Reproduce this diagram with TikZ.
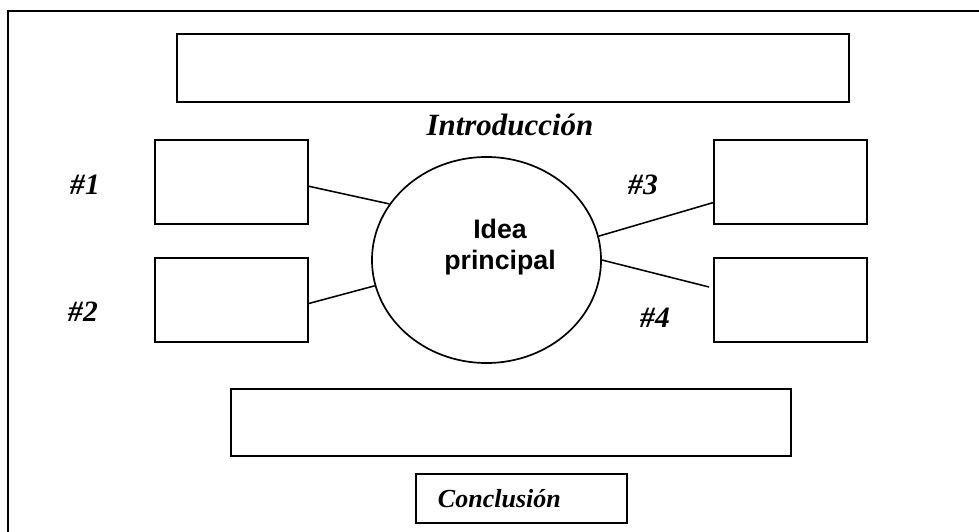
\documentclass[tikz,border=0pt]{standalone}
\usepackage{fontspec}
\setmainfont{Liberation Serif}
\newfontfamily\ideafont{Liberation Sans}
\usetikzlibrary{shapes.geometric, calc}

\tikzset{
	box/.style = {draw, line width = 1.4pt, inner sep = 0pt},
	small box/.style = {box, minimum width = 3.825cm, minimum height = 2.1cm},
	link/.style = {line width = 1.1pt},
	tag/.style = {font = \fontsize{21}{25}\selectfont\bfseries\itshape},
	heading/.style = {font = \fontsize{22}{26}\selectfont\bfseries\itshape}
}

\begin{document}
\begin{tikzpicture}[x = 0.025cm, y = -0.025cm]

	% Frame
	
	\useasboundingbox (0, 0) rectangle (979, 532);
	\clip (0, 0) rectangle (979, 532);
	\draw [line width = 1.5pt] (8, 11) rectangle (1000, 560);
	
	% Introduction + conclusion boxes
	
	\node [box, minimum width = 16.8cm, minimum height = 1.7cm] (intro) at (513, 68) {};
	\node [heading] (introtext) at (510, 125) {Introducción};
	
	\node [box, minimum width = 14cm, minimum height = 1.675cm] (concl) at (511, 422.5) {};
	\node [box, heading, font = \fontsize{18.5}{22}\selectfont\bfseries\itshape,
		text width = 4.175cm, inner xsep = 0.55cm, minimum height = 1.225cm, align = left]
		(concltext) at (521.5, 498.5) {Conclusión};
	
	% Main idea
	
	\node [ellipse, draw, line width = 1.2pt, minimum width = 5.725cm, minimum height = 5.15cm, inner sep = 0pt] (idea) at (486.5, 260) {};
	\node [font = \ideafont\fontsize{19}{22}\selectfont\bfseries, align = center] (ideatext) at (500, 247) {Idea\\principal};
	
	% Detail boxes
	
	\node [small box] (b1) at (231.5, 182) {};
	\node [small box] (b2) at (231.5, 300) {};
	\node [small box] (b3) at (790.5, 182) {};
	\node [small box] (b4) at (790.5, 300) {};
	
	\node [tag] (t1) at (85, 185) {\#1};
	\node [tag] (t2) at (83, 312) {\#2};
	\node [tag] (t3) at (643, 185) {\#3};
	\node [tag] (t4) at (655, 318) {\#4};
	
	% Links
	
	\coordinate (end4) at (709, 287);
	
	\draw [link] ($(b1.north east)!0.55!(b1.south east)$) -- (idea.150);
	\draw [link] ($(b2.north east)!0.54!(b2.south east)$) -- (idea.193);
	\draw [link] (idea.12) -- ($(b3.north west)!0.74!(b3.south west)$);
	\draw [link] (idea.0) -- (end4);

\end{tikzpicture}
\end{document}
